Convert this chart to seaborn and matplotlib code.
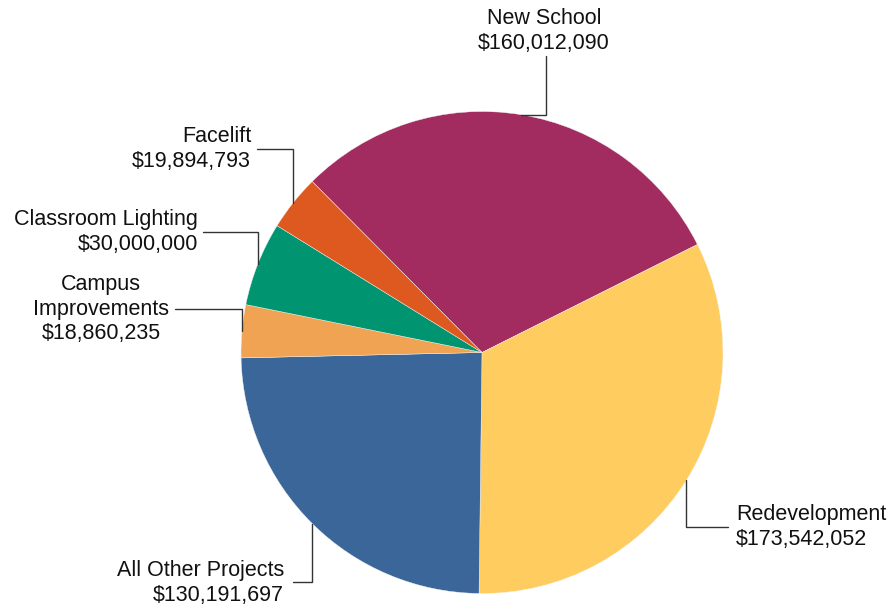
import numpy as np
import matplotlib
matplotlib.use("Agg")
import matplotlib.pyplot as plt
import seaborn as sns

# ---- data ----
categories = ["New School", "Redevelopment", "All Other Projects",
              "Campus Improvements", "Classroom Lighting", "Facelift"]
label_names = ["New School", "Redevelopment", "All Other Projects",
               "Campus\nImprovements", "Classroom Lighting", "Facelift"]
values = [160012090, 173542052, 130191697, 18860235, 30000000, 19894793]
colors = ["#A22C5F", "#FECC5F", "#3A6699", "#F0A453", "#009570", "#DE5920"]

# ---- layout (pixel coordinates, y measured from top) ----
W, H = 893, 607
CX, CY, R = 482, 352.5, 241
START = 134.8
# route: ("hv", elbow_x, end_y) or ("vh", elbow_y, end_x)
routes = [("hv", 546, 56), ("vh", 527, 728), ("vh", 582, 293),
          ("vh", 309, 175), ("vh", 232, 203), ("vh", 149, 257)]
# text anchor: x, y, ha, multialignment
text_pos = [(544, 31, "center", "center"), (736, 527, "left", "left"),
            (284, 583, "right", "right"), (169, 309, "right", "center"),
            (198, 232, "right", "right"), (251, 149, "right", "right")]

sns.set_theme(style="white")
plt.rcParams["font.family"] = ["Liberation Sans", "DejaVu Sans"]

fig = plt.figure(figsize=(W / 100, H / 100), dpi=100)
ax = fig.add_axes([0, 0, 1, 1])
ax.set_xlim(0, W)
ax.set_ylim(0, H)
ax.set_aspect("equal")
ax.axis("off")

pal = sns.color_palette(colors)
wedges, _ = ax.pie(values, colors=pal, startangle=START, counterclock=False,
                   center=(CX, H - CY), radius=R,
                   wedgeprops=dict(edgecolor="#f4f4f4", linewidth=0.3))
ax.set_xlim(0, W)
ax.set_ylim(0, H)

def Y(y):
    return H - y

for w, name, val, rt, tp in zip(wedges, label_names, values, routes, text_pos):
    mid = np.deg2rad((w.theta1 + w.theta2) / 2)
    ex = CX + R * np.cos(mid)
    ey = H - CY + R * np.sin(mid)
    if rt[0] == "hv":
        xs = [ex, rt[1], rt[1]]
        ys = [ey, ey, Y(rt[2])]
    else:
        xs = [ex, ex, rt[2]]
        ys = [ey, Y(rt[1]), Y(rt[1])]
    ax.plot(xs, ys, color="#333333", lw=1.0, solid_joinstyle="miter")
    x, y, ha, ma = tp
    ax.text(x, Y(y), f"{name}\n${val:,}", ha=ha, va="center",
            multialignment=ma, fontsize=15.5, color="#111111", linespacing=1.22)

fig.savefig("out.png", dpi=100)
